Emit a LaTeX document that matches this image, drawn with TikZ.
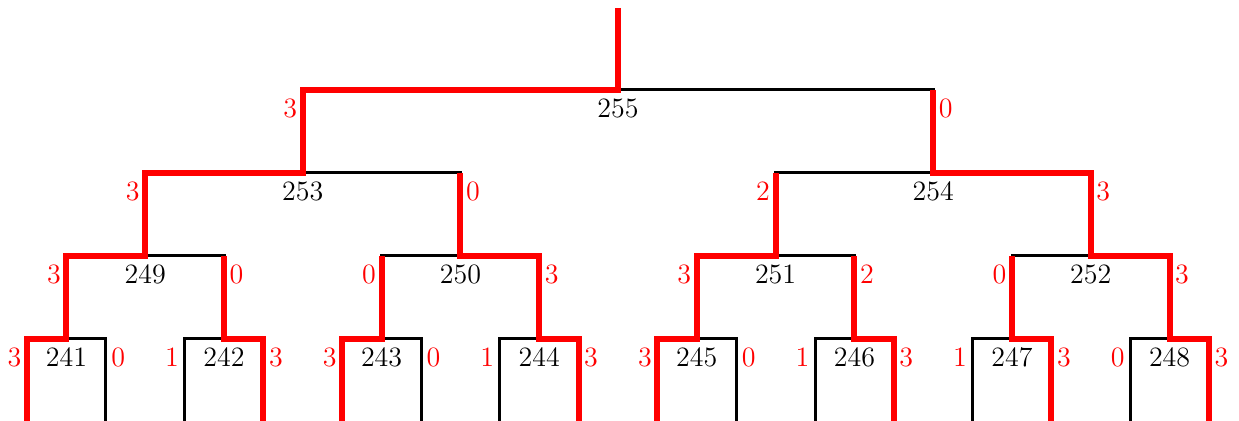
\documentclass[tikz,border=0pt]{standalone}
\usepackage{fontspec}
\begin{document}
\begin{tikzpicture}[x=0.5pt,y=-0.5pt,
  blk/.style={draw=black,line width=1.5pt},
  redp/.style={draw=red,line width=3pt},
  num/.style={font=\fontsize{14}{16}\selectfont,text=black,inner sep=0pt},
  nodelab/.style={num,yshift=-9pt},
  lftlab/.style={num,text=red,xshift=-6.25pt,yshift=-9pt},
  rgtlab/.style={num,text=red,xshift=6.25pt,yshift=-9pt}]
\useasboundingbox (0,0) rectangle (1239,421);
% tree points
\coordinate (top) at (618,8);
\coordinate (n255) at (618,90);
\coordinate (n253) at (302.8,173);
\coordinate (n254) at (933.2,173);
\coordinate (n249) at (145.2,256);
\coordinate (n250) at (460.4,256);
\coordinate (n251) at (775.6,256);
\coordinate (n252) at (1090.8,256);
\coordinate (n241) at (66.4,339);
\coordinate (n242) at (224.0,339);
\coordinate (n243) at (381.6,339);
\coordinate (n244) at (539.2,339);
\coordinate (n245) at (696.8,339);
\coordinate (n246) at (854.4,339);
\coordinate (n247) at (1012.0,339);
\coordinate (n248) at (1169.6,339);
\foreach \i in {0,...,15} {\coordinate (l\i) at ({27+78.8*\i},421);}
% black edges
\foreach \p/\c in {n255/n253,n255/n254,n253/n249,n253/n250,n254/n251,n254/n252,
  n249/n241,n249/n242,n250/n243,n250/n244,n251/n245,n251/n246,n252/n247,n252/n248,
  n241/l0,n241/l1,n242/l2,n242/l3,n243/l4,n243/l5,n244/l6,n244/l7,
  n245/l8,n245/l9,n246/l10,n246/l11,n247/l12,n247/l13,n248/l14,n248/l15}
  \draw[blk] (\p) -| (\c);
% red paths
\draw[redp] (top) -- (n255) -| (n253) -| (n249) -| (n241) -| (l0);
\draw[redp] (n255 -| n254) -- (n254) -| (n252) -| (n248) -| (l15);
\draw[redp] (n253 -| n250) -- (n250) -| (n244) -| (l7);
\draw[redp] (n254 -| n251) -- (n251) -| (n245) -| (l8);
\draw[redp] (n249 -| n242) -- (n242) -| (l3);
\draw[redp] (n250 -| n243) -- (n243) -| (l4);
\draw[redp] (n251 -| n246) -- (n246) -| (l11);
\draw[redp] (n252 -| n247) -- (n247) -| (l13);
% node labels
\foreach \n in {255,253,254,249,250,251,252,241,242,243,244,245,246,247,248}
  \node[nodelab] (t\n) at (n\n) {\n};
% branch labels
\foreach \p/\c/\t/\s in {n255/n253/3/lftlab,n255/n254/0/rgtlab,
  n253/n249/3/lftlab,n253/n250/0/rgtlab,n254/n251/2/lftlab,n254/n252/3/rgtlab,
  n249/n241/3/lftlab,n249/n242/0/rgtlab,n250/n243/0/lftlab,n250/n244/3/rgtlab,
  n251/n245/3/lftlab,n251/n246/2/rgtlab,n252/n247/0/lftlab,n252/n248/3/rgtlab,
  n241/l0/3/lftlab,n241/l1/0/rgtlab,n242/l2/1/lftlab,n242/l3/3/rgtlab,
  n243/l4/3/lftlab,n243/l5/0/rgtlab,n244/l6/1/lftlab,n244/l7/3/rgtlab,
  n245/l8/3/lftlab,n245/l9/0/rgtlab,n246/l10/1/lftlab,n246/l11/3/rgtlab,
  n247/l12/1/lftlab,n247/l13/3/rgtlab,n248/l14/0/lftlab,n248/l15/3/rgtlab}
  \node[\s] (w\c) at (\p -| \c) {\t};
\end{tikzpicture}
\end{document}
